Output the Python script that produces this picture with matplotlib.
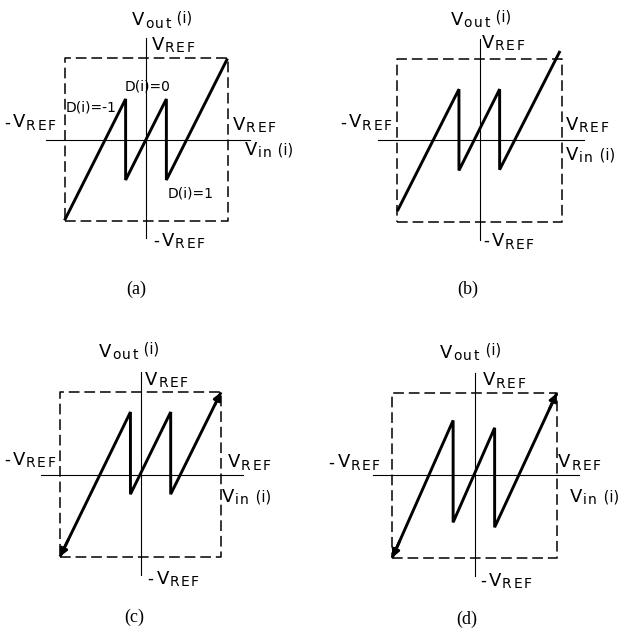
"""
Residue transfer curves of a 1.5-bit pipeline stage: ideal, output offset,
comparator offset and gain error.
"""

import matplotlib
matplotlib.use("Agg")
import matplotlib.pyplot as plt
from matplotlib.transforms import offset_copy

# transfer curve breakpoints, normalised to VREF
a_x = [-1.0, -0.25, -0.25, 0.25, 0.25, 1.0]
a_y = [-1.0, 0.5, -0.5, 0.5, -0.5, 1.0]

b_x = [-1.0, -0.25, -0.25, 0.245, 0.245, 0.98]
b_y = [-0.87, 0.63, -0.37, 0.63, -0.36, 1.1]

c_x = [-1.0, -0.125, -0.125, 0.375, 0.375, 1.0]
c_y = [-1.0, 0.76, -0.24, 0.76, -0.24, 1.0]

d_x = [-1.0, -0.26, -0.26, 0.245, 0.245, 1.0]
d_y = [-1.0, 0.67, -0.57, 0.58, -0.63, 1.0]

captions = ["(a)", "(b)", "(c)", "(d)"]
digit_labels = ["D(i)=-1", "D(i)=0", "D(i)=1"]

W, H, DPI = 625, 638, 100
SANS = "DejaVu Sans"
SERIF = "Liberation Serif"

fig = plt.figure(figsize=(W / DPI, H / DPI), dpi=DPI)
fig.patch.set_facecolor("white")
renderer = fig.canvas.get_renderer()


def make_panel(cx, cy, hx, hy):
    # axes placed so that the +-1 square lands at the given pixel centre/half-size
    ax = fig.add_axes([(cx - 1.6 * hx) / W, 1 - (cy + 1.6 * hy) / H,
                       3.2 * hx / W, 3.2 * hy / H])
    ax.set_xlim(-1.6, 1.6)
    ax.set_ylim(-1.6, 1.6)
    ax.axis("off")
    return ax


def rich(ax, x, y, parts, ha="left"):
    # parts: (text, size, baseline shift px, extra spacing px)
    items = []
    for s, size, dy, track in parts:
        t = ax.text(x, y, s, fontsize=size, ha="left", va="baseline",
                    family=SANS, clip_on=False)
        w = t.get_window_extent(renderer).width + track
        items.append((t, w, dy))
    total = sum(w for _, w, _ in items)
    off = {"left": 0, "center": -total / 2, "right": -total}[ha]
    for t, w, dy in items:
        t.set_transform(offset_copy(ax.transData, fig=fig, x=off, y=dy, units="dots"))
        off += w


def volt(sub, minus=False, tail=None, tail_dy=0):
    parts = []
    if minus:
        parts.append(("-", 12, 0, 3))
    parts.append(("V", 13, 0, 0.5))
    for ch in sub:
        parts.append((ch, 10, -2.5, 1.6))
    if tail:
        parts.append((" " + tail, 10.5, tail_dy, 0))
    return parts


def draw_panel(ax, xs, ys, arrows, lab):
    box = dict(color="black", lw=1.1, linestyle=(0, (7, 3.2)))
    ax.plot([-1, 1, 1, -1, -1], [-1, -1, 1, 1, -1], **box)
    ax.plot([-1.23, 1.27], [0, 0], color="black", lw=0.8)
    ax.plot([0, 0], [-1.22, 1.25], color="black", lw=0.8)
    ax.plot(xs, ys, color="black", lw=2.1, solid_capstyle="butt",
            solid_joinstyle="miter")
    if arrows:
        for i0, i1 in [(1, 0), (4, 5)]:
            x0, y0, x1, y1 = xs[i0], ys[i0], xs[i1], ys[i1]
            f = 0.12
            ax.annotate("", xy=(x1, y1), xytext=(x1 - (x1 - x0) * f, y1 - (y1 - y0) * f),
                        arrowprops=dict(arrowstyle="-|>", color="black", lw=2.0,
                                        mutation_scale=11, shrinkA=0, shrinkB=0))
    # label positions in panel units
    rich(ax, lab["out"][0], lab["out"][1], volt("out", tail="(i)", tail_dy=3), ha="center")
    rich(ax, lab["top"][0], lab["top"][1], volt("REF"))
    rich(ax, lab["left"][0], lab["left"][1], volt("REF", minus=True), ha="right")
    rich(ax, lab["right"][0], lab["right"][1], volt("REF"))
    rich(ax, lab["in"][0], lab["in"][1], volt("in", tail="(i)"))
    rich(ax, lab["bot"][0], lab["bot"][1], volt("REF", minus=True))
    ax.text(lab["cap"][0], lab["cap"][1], lab["name"], fontsize=13, family=SERIF,
            ha="center", va="baseline")


ax_a = make_panel(146, 139.5, 81.5, 81)
ax_b = make_panel(479.5, 140.4, 82.2, 81.3)
ax_c = make_panel(140.5, 474.5, 80.5, 82.2)
ax_d = make_panel(474.5, 475.5, 82.2, 82.2)

draw_panel(ax_a, a_x, a_y, False, {
    "out": (0.2, 1.41), "top": (0.07, 1.11), "left": (-1.09, 0.15),
    "right": (1.07, 0.12), "in": (1.21, -0.19), "bot": (0.09, -1.31),
    "cap": (-0.12, -1.91), "name": captions[0]})
draw_panel(ax_b, b_x, b_y, False, {
    "out": (0.02, 1.42), "top": (0.03, 1.14), "left": (-1.05, 0.16),
    "right": (1.05, 0.13), "in": (1.05, -0.24), "bot": (0.04, -1.30),
    "cap": (-0.14, -1.89), "name": captions[1]})
draw_panel(ax_c, c_x, c_y, True, {
    "out": (-0.14, 1.43), "top": (0.06, 1.09), "left": (-1.04, 0.12),
    "right": (1.09, 0.09), "in": (1.01, -0.33), "bot": (0.09, -1.33),
    "cap": (-0.08, -1.79), "name": captions[2]})
draw_panel(ax_d, d_x, d_y, True, {
    "out": (-0.05, 1.43), "top": (0.10, 1.10), "left": (-1.13, 0.10),
    "right": (1.02, 0.10), "in": (1.16, -0.32), "bot": (0.07, -1.34),
    "cap": (-0.10, -1.80), "name": captions[3]})

# decision labels on the ideal curve
ax_a.text(-0.99, 0.34, digit_labels[0], fontsize=10, family=SANS, va="baseline")
ax_a.text(-0.26, 0.61, digit_labels[1], fontsize=10, family=SANS, va="baseline")
ax_a.text(0.26, -0.71, digit_labels[2], fontsize=10, family=SANS, va="baseline")

fig.savefig("out.png", dpi=DPI, facecolor="white")
